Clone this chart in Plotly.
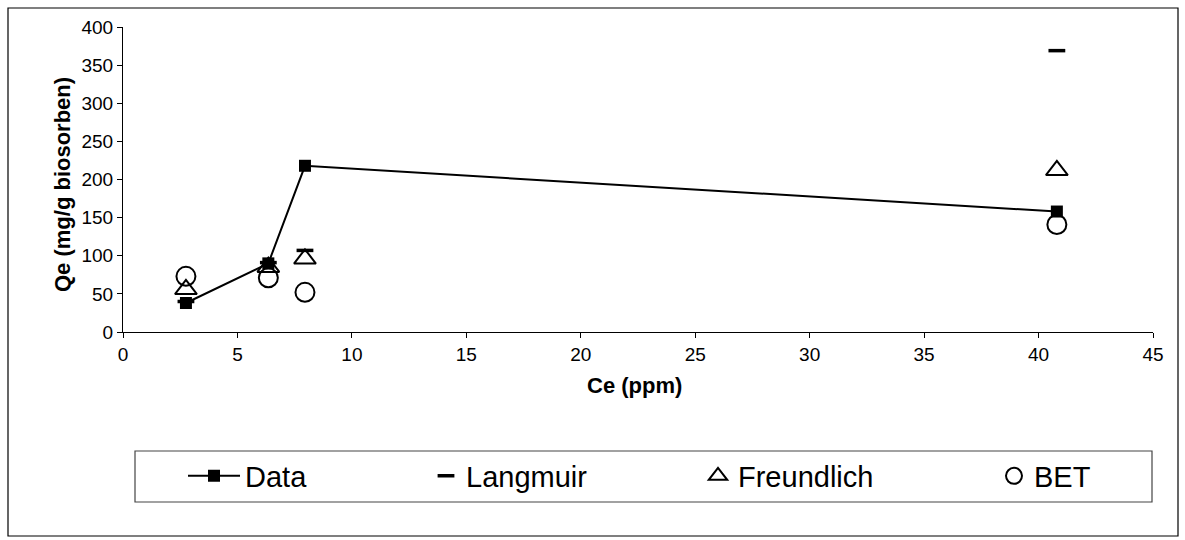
import plotly.graph_objects as go

# ---- data ----
ce = [2.75, 6.35, 7.95, 40.8]
qe_data = [38, 90, 218, 158]
qe_langmuir = [40, 91, 107, 369]
qe_freundlich = [56, 85, 96, 212]
qe_bet = [73, 71, 52, 141]

x_ticks = [0, 5, 10, 15, 20, 25, 30, 35, 40, 45]
y_ticks = [0, 50, 100, 150, 200, 250, 300, 350, 400]

# ---- layout geometry (pixels) ----
W, H = 1185, 540
ML, MR, MT, MB = 123, 32, 27, 208
PW = W - ML - MR
PH = H - MT - MB
Y0 = H - MB  # pixel row of y=0


def px_x(px):
    return (px - ML) / PW


def px_y(py):
    return (Y0 - py) / PH


FONT = "Liberation Sans, Arial, sans-serif"

fig = go.Figure()
fig.add_trace(go.Scatter(
    x=ce, y=qe_data, name="Data", mode="lines+markers",
    line=dict(color="black", width=2),
    marker=dict(symbol="square", size=12, color="black"),
    legend="legend"))
fig.add_trace(go.Scatter(
    x=ce, y=qe_langmuir, name="Langmuir", mode="markers",
    marker=dict(symbol="line-ew", size=12, color="black",
                line=dict(width=3.5, color="black")),
    legend="legend2"))
fig.add_trace(go.Scatter(
    x=ce, y=qe_freundlich, name="Freundlich", mode="markers",
    marker=dict(symbol="triangle-up-open", size=19, color="black",
                line=dict(width=2, color="black")),
    legend="legend3"))
fig.add_trace(go.Scatter(
    x=ce, y=qe_bet, name="BET", mode="markers",
    marker=dict(symbol="circle-open", size=19, color="black",
                line=dict(width=2, color="black")),
    legend="legend4"))

leg_common = dict(font=dict(family=FONT, size=29, color="black"),
                  bgcolor="rgba(0,0,0,0)", borderwidth=0,
                  xanchor="left", yanchor="middle", y=px_y(476),
                  orientation="h", itemclick=False, itemdoubleclick=False)

fig.update_layout(
    width=W, height=H,
    margin=dict(l=ML, r=MR, t=MT, b=MB),
    paper_bgcolor="white", plot_bgcolor="white",
    font=dict(family=FONT, size=19, color="black"),
    showlegend=True,
    legend=dict(x=px_x(183), itemwidth=52, **leg_common),
    legend2=dict(x=px_x(426), itemwidth=30, **leg_common),
    legend3=dict(x=px_x(698), itemwidth=30, **leg_common),
    legend4=dict(x=px_x(994), itemwidth=30, **leg_common),
    xaxis=dict(range=[0, 45], tickvals=x_ticks, ticktext=[str(v) for v in x_ticks],
               showgrid=False, zeroline=False, showline=True, linecolor="black",
               linewidth=1, ticks="outside", ticklen=5, tickcolor="black",
               tickfont=dict(size=19)),
    yaxis=dict(range=[0, 400], tickvals=y_ticks, ticktext=[str(v) for v in y_ticks],
               showgrid=False, zeroline=False, showline=True, linecolor="black",
               linewidth=1, ticks="outside", ticklen=5, tickcolor="black",
               tickfont=dict(size=19)),
    annotations=[
        dict(text="<b>Ce (ppm)</b>", xref="paper", yref="paper",
             x=px_x(634), y=px_y(385), showarrow=False,
             font=dict(size=22), xanchor="center", yanchor="middle"),
        dict(text="<b>Qe (mg/g biosorben)</b>", xref="paper", yref="paper",
             x=px_x(62), y=px_y(185), showarrow=False, textangle=-90,
             font=dict(size=22), xanchor="center", yanchor="middle"),
    ],
    shapes=[
        dict(type="rect", xref="paper", yref="paper",
             x0=px_x(8), x1=px_x(1178), y0=px_y(536), y1=px_y(8),
             line=dict(color="black", width=1.2), fillcolor="rgba(0,0,0,0)",
             layer="below"),
        dict(type="rect", xref="paper", yref="paper",
             x0=px_x(135), x1=px_x(1152), y0=px_y(502), y1=px_y(451),
             line=dict(color="#444444", width=1.2), fillcolor="rgba(0,0,0,0)",
             layer="below"),
    ],
)

fig.write_html("out.html")
